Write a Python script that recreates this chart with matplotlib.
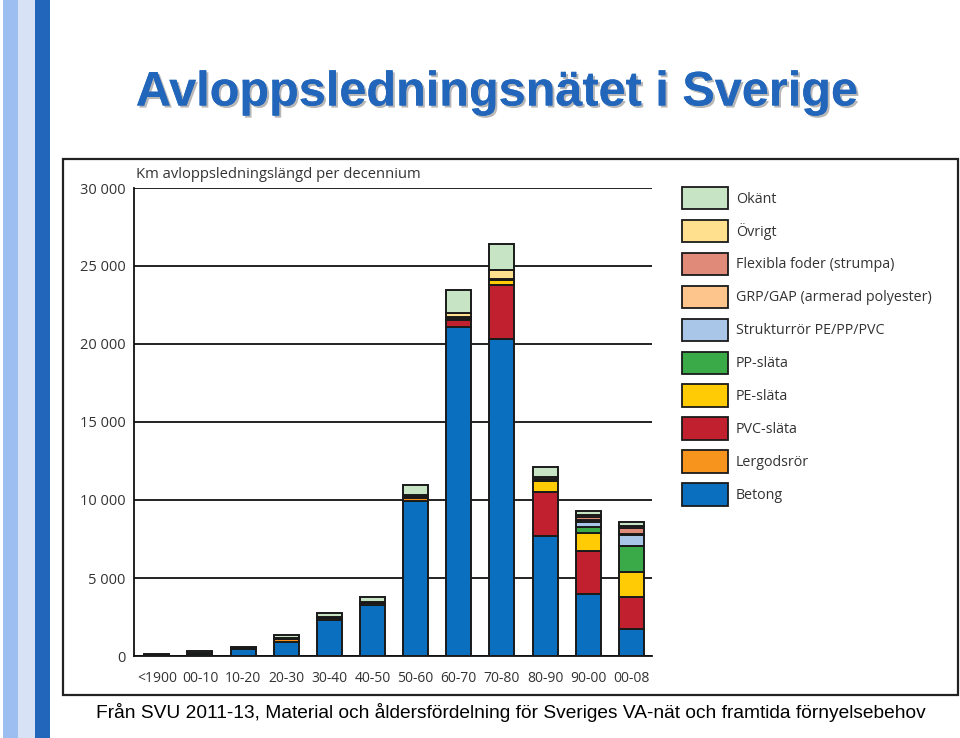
import numpy as np
import matplotlib.pyplot as plt
import matplotlib.patheffects as pe
from matplotlib.patches import Rectangle, Patch

decades = ['<1900', '00-10', '10-20', '20-30', '30-40', '40-50', '50-60',
           '60-70', '70-80', '80-90', '90-00', '00-08']

# km per decennium och material
betong     = [50, 120, 450, 880, 2330, 3300, 9950, 21100, 20350, 7690, 3970, 1710]
lergods    = [20, 100, 60, 200, 80, 90, 200, 0, 0, 0, 0, 0]
pvc        = [0, 0, 0, 0, 0, 0, 100, 470, 3400, 2800, 2750, 2090]
pe_slata   = [0, 0, 0, 0, 0, 0, 0, 60, 360, 740, 1170, 1600]
pp_slata   = [0, 0, 0, 0, 0, 0, 0, 40, 40, 50, 350, 1650]
struktur   = [0, 0, 0, 0, 0, 0, 0, 30, 30, 30, 320, 700]
grp        = [0, 0, 0, 0, 0, 0, 0, 0, 0, 20, 150, 100]
flexibla   = [0, 0, 0, 0, 0, 0, 0, 0, 0, 0, 170, 360]
ovrigt     = [0, 0, 0, 60, 60, 50, 50, 270, 560, 150, 150, 100]
okant      = [30, 80, 90, 200, 290, 320, 650, 1520, 1650, 650, 280, 260]

series = [
    ('Betong', betong, '#0A6FBF'),
    ('Lergodsrör', lergods, '#F7941D'),
    ('PVC-släta', pvc, '#C1202F'),
    ('PE-släta', pe_slata, '#FFCB05'),
    ('PP-släta', pp_slata, '#3AAA48'),
    ('Strukturrör PE/PP/PVC', struktur, '#A9C6E8'),
    ('GRP/GAP (armerad polyester)', grp, '#FDC58C'),
    ('Flexibla foder (strumpa)', flexibla, '#E08B7A'),
    ('Övrigt', ovrigt, '#FFE08E'),
    ('Okänt', okant, '#C7E4C4'),
]

W, H = 960, 738
fig = plt.figure(figsize=(W / 100, H / 100), dpi=100)

# blå ränder till vänster
for x0, x1, c in [(3, 18, '#9DBEF0'), (18, 35, '#D8E2F6'), (35, 50, '#2266BB')]:
    fig.add_artist(Rectangle((x0 / W, 0), (x1 - x0) / W, 1, transform=fig.transFigure,
                             facecolor=c, edgecolor='none'))

# ram runt diagrammet
fig.add_artist(Rectangle((63 / W, 1 - 695 / H), (958 - 63) / W, (695 - 159) / H,
                         transform=fig.transFigure, facecolor='none',
                         edgecolor='#222222', linewidth=1.6))

fig.text(497 / W, 1 - 93 / H, 'Avloppsledningsnätet i Sverige', ha='center', va='center',
         fontsize=35, fontweight='bold', color='#2266BB', family='Liberation Sans',
         path_effects=[pe.withSimplePatchShadow(offset=(1.5, -1.5), shadow_rgbFace='#888888',
                                                alpha=0.6), pe.Normal()])

ax = fig.add_axes([134 / W, 1 - 656 / H, (652 - 134) / W, (656 - 188) / H])
ax.patch.set_alpha(0)
x = np.arange(len(decades))
bottom = np.zeros(len(decades))
for name, vals, col in series:
    ax.bar(x, vals, width=0.58, bottom=bottom, color=col, edgecolor='#1a1a1a',
           linewidth=1.4, zorder=3)
    bottom += np.array(vals)

ax.set_xlim(-0.53, 11.48)
ax.set_ylim(0, 30000)
ax.set_yticks(range(0, 30001, 5000))
ax.set_yticklabels(['0', '5 000', '10 000', '15 000', '20 000', '25 000', '30 000'])
ax.set_xticks(x)
ax.set_xticklabels(decades)
ax.yaxis.grid(True, color='#111111', linewidth=1.3, zorder=0)
ax.set_axisbelow(True)
for s in ['top', 'right']:
    ax.spines[s].set_visible(False)
for s in ['left', 'bottom']:
    ax.spines[s].set_linewidth(1.3)
    ax.spines[s].set_color('#111111')
ax.tick_params(length=0, labelcolor='#333333')
ax.tick_params(axis='x', pad=11, labelsize=10)
ax.tick_params(axis='y', pad=6, labelsize=10.5)
for lab in ax.get_xticklabels() + ax.get_yticklabels():
    lab.set_family('Open Sans')

ax.text(0.003, 1.012, 'Km avloppsledningslängd per decennium', transform=ax.transAxes,
        ha='left', va='bottom', fontsize=10.6, color='#333333', family='Open Sans')

handles = [Patch(facecolor=c, edgecolor='#1a1a1a', linewidth=1.3, label=n)
           for n, v, c in series[::-1]]
fig.legend(handles=handles, loc='upper left', bbox_to_anchor=(676 / W, 1 - 181 / H),
           frameon=False, handlelength=3.2, handleheight=2.06,
           labelspacing=0.72, handletextpad=0.6, borderaxespad=0,
           prop={'family': 'Open Sans', 'size': 10.3}, labelcolor='#333333')

fig.text(511 / W, 1 - 712 / H,
         'Från SVU 2011-13, Material och åldersfördelning för Sveriges VA-nät och framtida förnyelsebehov',
         ha='center', va='center', fontsize=13.8, color='black', family='Liberation Sans')

fig.savefig('out.png', dpi=100)
